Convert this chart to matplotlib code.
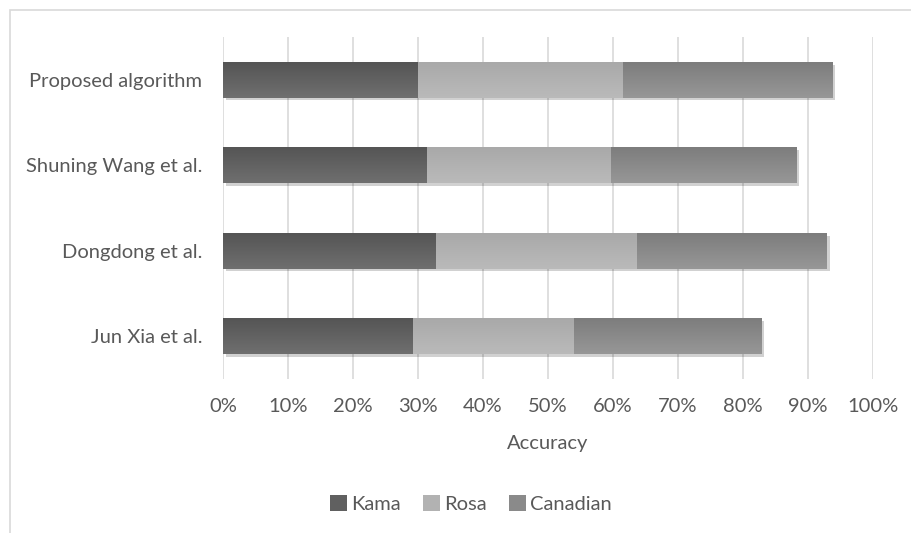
import numpy as np
import matplotlib
matplotlib.use("Agg")
import matplotlib.pyplot as plt
from matplotlib.patches import Rectangle, Patch
from matplotlib.ticker import PercentFormatter
import matplotlib.patheffects as pe

plt.rcParams['font.family'] = ['Lato', 'DejaVu Sans']

methods = ["Jun Xia et al.", "Dongdong et al.", "Shuning Wang et al.", "Proposed algorithm"]
kama = [0.292, 0.328, 0.314, 0.300]
rosa = [0.248, 0.309, 0.283, 0.315]
canadian = [0.288, 0.292, 0.285, 0.322]
series = ["Kama", "Rosa", "Canadian"]

# (mid colour, top colour, bottom colour) for the shaded bars
shades = {
    "Kama": ("#606060", "#6f6f6f", "#555555"),
    "Rosa": ("#b2b2b2", "#bababa", "#a9a9a9"),
    "Canadian": ("#8a8a8a", "#979797", "#7d7d7d"),
}
text_col = "#595959"
grid_col = "#d9d9d9"
fs = 14.5

fig = plt.figure(figsize=(9.11, 5.33), dpi=100)
ax = fig.add_axes([0.2448, 0.2889, 0.7135, 0.6417])

# outer chart frame
fig.patches.append(Rectangle((10 / 911, -0.1), 1.2, 1.1 - 10.5 / 533,
                             transform=fig.transFigure, fill=False,
                             edgecolor=grid_col, linewidth=1.2))

y = np.arange(len(methods))
left = np.zeros(len(methods))
for name, vals in zip(series, [kama, rosa, canadian]):
    mid, top, bot = shades[name]
    bars = ax.barh(y, vals, left=left, height=0.42, color=mid,
                   zorder=3, linewidth=0)
    cmap = matplotlib.colors.LinearSegmentedColormap.from_list(name, [top, bot])
    for b in bars:
        b.set_path_effects([pe.SimplePatchShadow(offset=(2, -2), shadow_rgbFace="#000000", alpha=0.18),
                            pe.Normal()])
        x0, y0 = b.get_x(), b.get_y()
        w, h = b.get_width(), b.get_height()
        grad = np.linspace(0, 1, 64).reshape(-1, 1)
        im = ax.imshow(grad, cmap=cmap, aspect="auto", extent=(x0, x0 + w, y0 + h, y0),
                       zorder=3.5, interpolation="bilinear")
        im.set_clip_path(b)
    left += np.array(vals)

ax.set_xlim(0, 1)
ax.set_ylim(-0.5, len(methods) - 0.5)
ax.set_yticks(y)
ax.set_yticklabels(methods)
ax.set_xticks(np.arange(0, 1.01, 0.1))
ax.xaxis.set_major_formatter(PercentFormatter(1.0, decimals=0))
ax.grid(axis="x", color=grid_col, linewidth=1.2, zorder=0)
ax.set_axisbelow(True)
for s in ax.spines.values():
    s.set_visible(False)
ax.tick_params(axis="both", length=0, labelsize=fs, labelcolor=text_col)
ax.tick_params(axis="x", pad=14)
ax.tick_params(axis="y", pad=15)
ax.set_xlabel("Accuracy", fontsize=fs, color=text_col, labelpad=14)

handles = [Patch(facecolor=shades[n][0], edgecolor="none", label=n) for n in series]
fig.legend(handles=handles, loc="center", bbox_to_anchor=(0.517, 1 - 504 / 533), ncol=3,
           frameon=False, fontsize=fs, handlelength=0.85, handleheight=0.85,
           handletextpad=0.2, columnspacing=1.1, labelcolor=text_col)

fig.savefig("out.png", dpi=100)
